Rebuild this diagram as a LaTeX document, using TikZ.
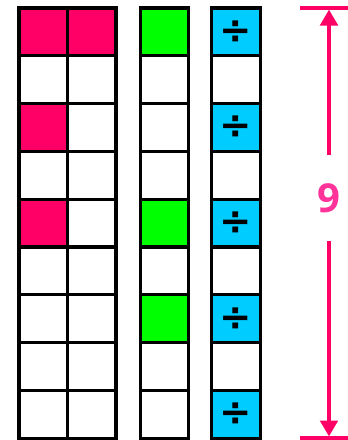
\documentclass[tikz,border=0pt]{standalone}
\usepackage{fontspec}
\newfontfamily\numfont{Open Sans}
\newfontfamily\symfont{DejaVu Sans}
\usepackage{xcolor}
\definecolor{CellPink}{HTML}{FF0066}
\definecolor{CellGreen}{HTML}{00FF00}
\definecolor{CellBlue}{HTML}{00CCFF}
\definecolor{NumPink}{HTML}{FF3399}
\usepackage{tikz}
\usetikzlibrary{arrows.meta}

\begin{document}
\begin{tikzpicture}[
    x=0.75pt, y=-0.75pt,
    cell/.style={draw=black, line width=2.3pt, inner sep=0pt, outer sep=0pt,
                 minimum width=36.4pt, minimum height=35.85pt,
                 font=\symfont\bfseries\fontsize{29}{29}\selectfont},
    pinkcell/.style={cell, fill=CellPink},
    greencell/.style={cell, fill=CellGreen},
    bluecell/.style={cell, fill=CellBlue},
    dim/.style={CellPink, line width=3pt},
    arr/.style={dim, -{Triangle[width=13pt, length=12pt]}},
    numlab/.style={font=\numfont\bfseries\fontsize{30}{30}\selectfont, text=NumPink,
                   inner sep=0pt, minimum height=64pt}
]
\useasboundingbox (0,0) rectangle (348,440);
% grid of cells, rows from top
\foreach \r in {1,...,9} {
  \node[cell] (l\r) at (43.25, 8+47.8*\r-23.9) {};
  \node[cell] (m\r) at (91.75, 8+47.8*\r-23.9) {};
  \node[cell] (g\r) at (164.5, 8+47.8*\r-23.9) {};
  \node[cell] (b\r) at (236, 8+47.8*\r-23.9) {};
}
% coloured cells
\node[pinkcell] at (l1) {};
\node[pinkcell] at (m1) {};
\node[pinkcell] at (l3) {};
\node[pinkcell] at (l5) {};
\foreach \r in {1,5,7}
  \node[greencell] at (g\r) {};
\foreach \r in {1,3,5,7,9}
  \node[bluecell] at (b\r) {÷};
% height marker
\coordinate (topL) at (300,8);
\coordinate (topR) at (348,8);
\coordinate (botL) at (300,438);
\coordinate (botR) at (348,438);
\coordinate (top) at (329,9.5);
\coordinate (bot) at (329,436.5);
\node[numlab] (num) at (329,198) {9};
\draw[dim] (topL) -- (topR);
\draw[dim] (botL) -- (botR);
\draw[arr] (num.north) -- (top);
\draw[arr] (num.south) -- (bot);
\end{tikzpicture}
\end{document}
